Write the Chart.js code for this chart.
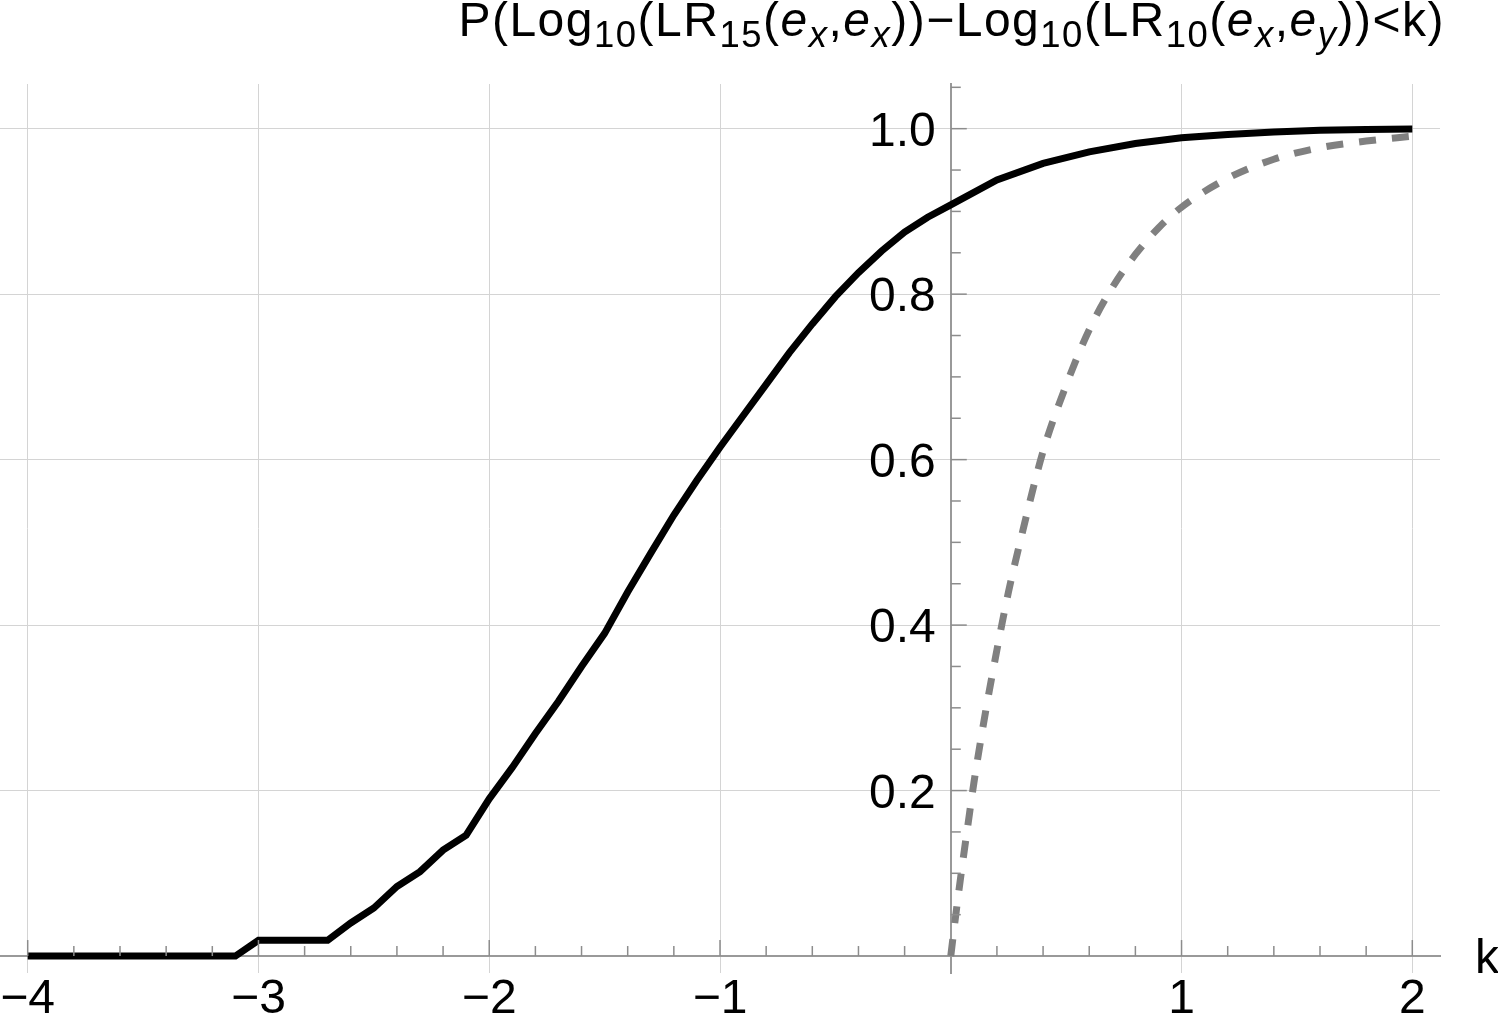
<!DOCTYPE html>
<html>
<head>
<meta charset="utf-8">
<script src="https://cdn.jsdelivr.net/npm/chart.js@4.4.1/dist/chart.umd.min.js"></script>
<style>
body{margin:0;background:#fff;}
#contenedor{position:relative;width:1498px;height:1014px;}
#titulo{position:absolute;right:53px;top:-5px;font-family:'Liberation Sans',Arial,sans-serif;font-size:48px;letter-spacing:1.5px;color:#000;white-space:nowrap;line-height:50px;}
#titulo sub{font-size:0.76em;vertical-align:-0.3em;line-height:0;}
</style>
</head>
<body>
<div id="contenedor">
<canvas id="myChart" width="1498" height="1014"></canvas>
<div id="titulo">P(Log<sub>10</sub>(LR<sub>15</sub>(<i>e</i><sub><i>x</i></sub>,<i>e</i><sub><i>x</i></sub>))&minus;Log<sub>10</sub>(LR<sub>10</sub>(<i>e</i><sub><i>x</i></sub>,<i>e</i><sub><i>y</i></sub>))&lt;k)</div>
</div>
<script>
// curva negra (continua)
var kSolida = [-4, -3.1, -3.0, -2.7, -2.6, -2.5, -2.4, -2.3, -2.2, -2.1, -2.0, -1.9, -1.8, -1.7, -1.6, -1.5, -1.4, -1.3, -1.2, -1.1, -1.0,
               -0.9, -0.8, -0.7, -0.6, -0.5, -0.4, -0.3, -0.2, -0.1, 0, 0.2, 0.4, 0.6, 0.8, 1.0, 1.2, 1.4, 1.6, 1.8, 2.0];
var pSolida = [0, 0, 0.019, 0.019, 0.04, 0.058, 0.084, 0.102, 0.128, 0.146, 0.19, 0.228, 0.269, 0.308, 0.35, 0.39, 0.44, 0.487, 0.533, 0.575, 0.615,
               0.653, 0.691, 0.729, 0.764, 0.797, 0.826, 0.852, 0.875, 0.893, 0.908, 0.938, 0.958, 0.972, 0.982, 0.989, 0.993, 0.996, 0.998, 0.999, 0.9995];

// curva gris (discontinua)
var kDiscontinua = [0, 0.025, 0.05, 0.075, 0.1, 0.15, 0.2, 0.25, 0.3, 0.4, 0.5, 0.6, 0.7, 0.8, 0.9, 1.0, 1.2, 1.4, 1.6, 1.8, 2.0];
var pDiscontinua = [0, 0.057, 0.11, 0.16, 0.209, 0.294, 0.37, 0.44, 0.5, 0.61, 0.69, 0.757, 0.808, 0.848, 0.88, 0.905, 0.94, 0.963, 0.977, 0.985, 0.991];

var xTicks = [-4, -3, -2, -1, 1, 2];
var xEtiquetas = ['\u22124', '\u22123', '\u22122', '\u22121', '1', '2'];
var yTicks = [0.2, 0.4, 0.6, 0.8, 1.0];
var yEtiquetas = ['0.2', '0.4', '0.6', '0.8', '1.0'];
var etiquetaEje = 'k';

var chart;

function puntos(xs, ys){
    var r = [];
    for (var i = 0; i < xs.length; i++){
        r.push({x: xs[i], y: ys[i]});
    }
    return r;
}

// marcas de los ejes y textos (estilo Mathematica, hacia dentro)
var ejes = {
    id: 'ejes',
    afterDraw: function(chart){
        var ctx = chart.ctx;
        var xs = chart.scales.x;
        var ys = chart.scales.y;
        var x0 = xs.getPixelForValue(0);
        var y0 = ys.getPixelForValue(0);
        ctx.save();
        ctx.strokeStyle = '#8c8c8c';
        ctx.lineWidth = 1.5;
        for (var i = -20; i <= 10; i++){
            if (i == 0) continue;
            var px = xs.getPixelForValue(i / 5);
            var largo = (i % 5 == 0) ? 16 : 10;
            ctx.beginPath();
            ctx.moveTo(px, y0);
            ctx.lineTo(px, y0 - largo);
            ctx.stroke();
        }
        for (var j = 1; j <= 21; j++){
            var py = ys.getPixelForValue(j / 20);
            var largo2 = (j % 4 == 0) ? 16 : 10;
            ctx.beginPath();
            ctx.moveTo(x0, py);
            ctx.lineTo(x0 + largo2, py);
            ctx.stroke();
        }
        ctx.fillStyle = '#000';
        ctx.font = '48px "Liberation Sans", Arial, sans-serif';
        ctx.textBaseline = 'alphabetic';
        ctx.textAlign = 'center';
        xTicks.forEach(function(v, n){
            ctx.fillText(xEtiquetas[n], xs.getPixelForValue(v), y0 + 57);
        });
        ctx.textAlign = 'right';
        yTicks.forEach(function(v, n){
            ctx.fillText(yEtiquetas[n], x0 - 15, ys.getPixelForValue(v) + 17);
        });
        ctx.textAlign = 'left';
        ctx.fillText(etiquetaEje, chart.chartArea.right + 35, y0 + 17);
        ctx.restore();
    }
};

function crearGrafica(){
    var ctx = document.getElementById('myChart');
    chart = new Chart(ctx, {
        type: 'line',
        data: {
            datasets: [{
                label: 'discontinua',
                data: puntos(kDiscontinua, pDiscontinua),
                borderColor: '#808080',
                borderWidth: 7,
                borderDash: [17, 16],
                borderCapStyle: 'butt',
                cubicInterpolationMode: 'monotone',
                pointRadius: 0,
                fill: false
            }, {
                label: 'continua',
                data: puntos(kSolida, pSolida),
                borderColor: '#000000',
                borderWidth: 7,
                borderCapStyle: 'butt',
                tension: 0,
                pointRadius: 0,
                fill: false
            }]
        },
        options: {
            responsive: false,
            animation: false,
            devicePixelRatio: 1,
            layout: {
                padding: {left: 0, right: 58, top: 84, bottom: 41}
            },
            plugins: {
                legend: {display: false},
                tooltip: {enabled: false},
                title: {display: false}
            },
            scales: {
                x: {
                    type: 'linear',
                    min: -4.12,
                    max: 2.12,
                    position: {y: 0},
                    ticks: {display: false, stepSize: 1, includeBounds: false},
                    grid: {color: '#d4d4d4', lineWidth: 1, drawTicks: false},
                    border: {display: true, color: '#999999', width: 2}
                },
                y: {
                    type: 'linear',
                    min: -0.0205,
                    max: 1.054,
                    position: {x: 0},
                    ticks: {display: false, stepSize: 0.2, includeBounds: false},
                    grid: {color: '#d4d4d4', lineWidth: 1, drawTicks: false},
                    border: {display: true, color: '#999999', width: 2}
                }
            }
        },
        plugins: [ejes]
    });
}

crearGrafica();
</script>
</body>
</html>
